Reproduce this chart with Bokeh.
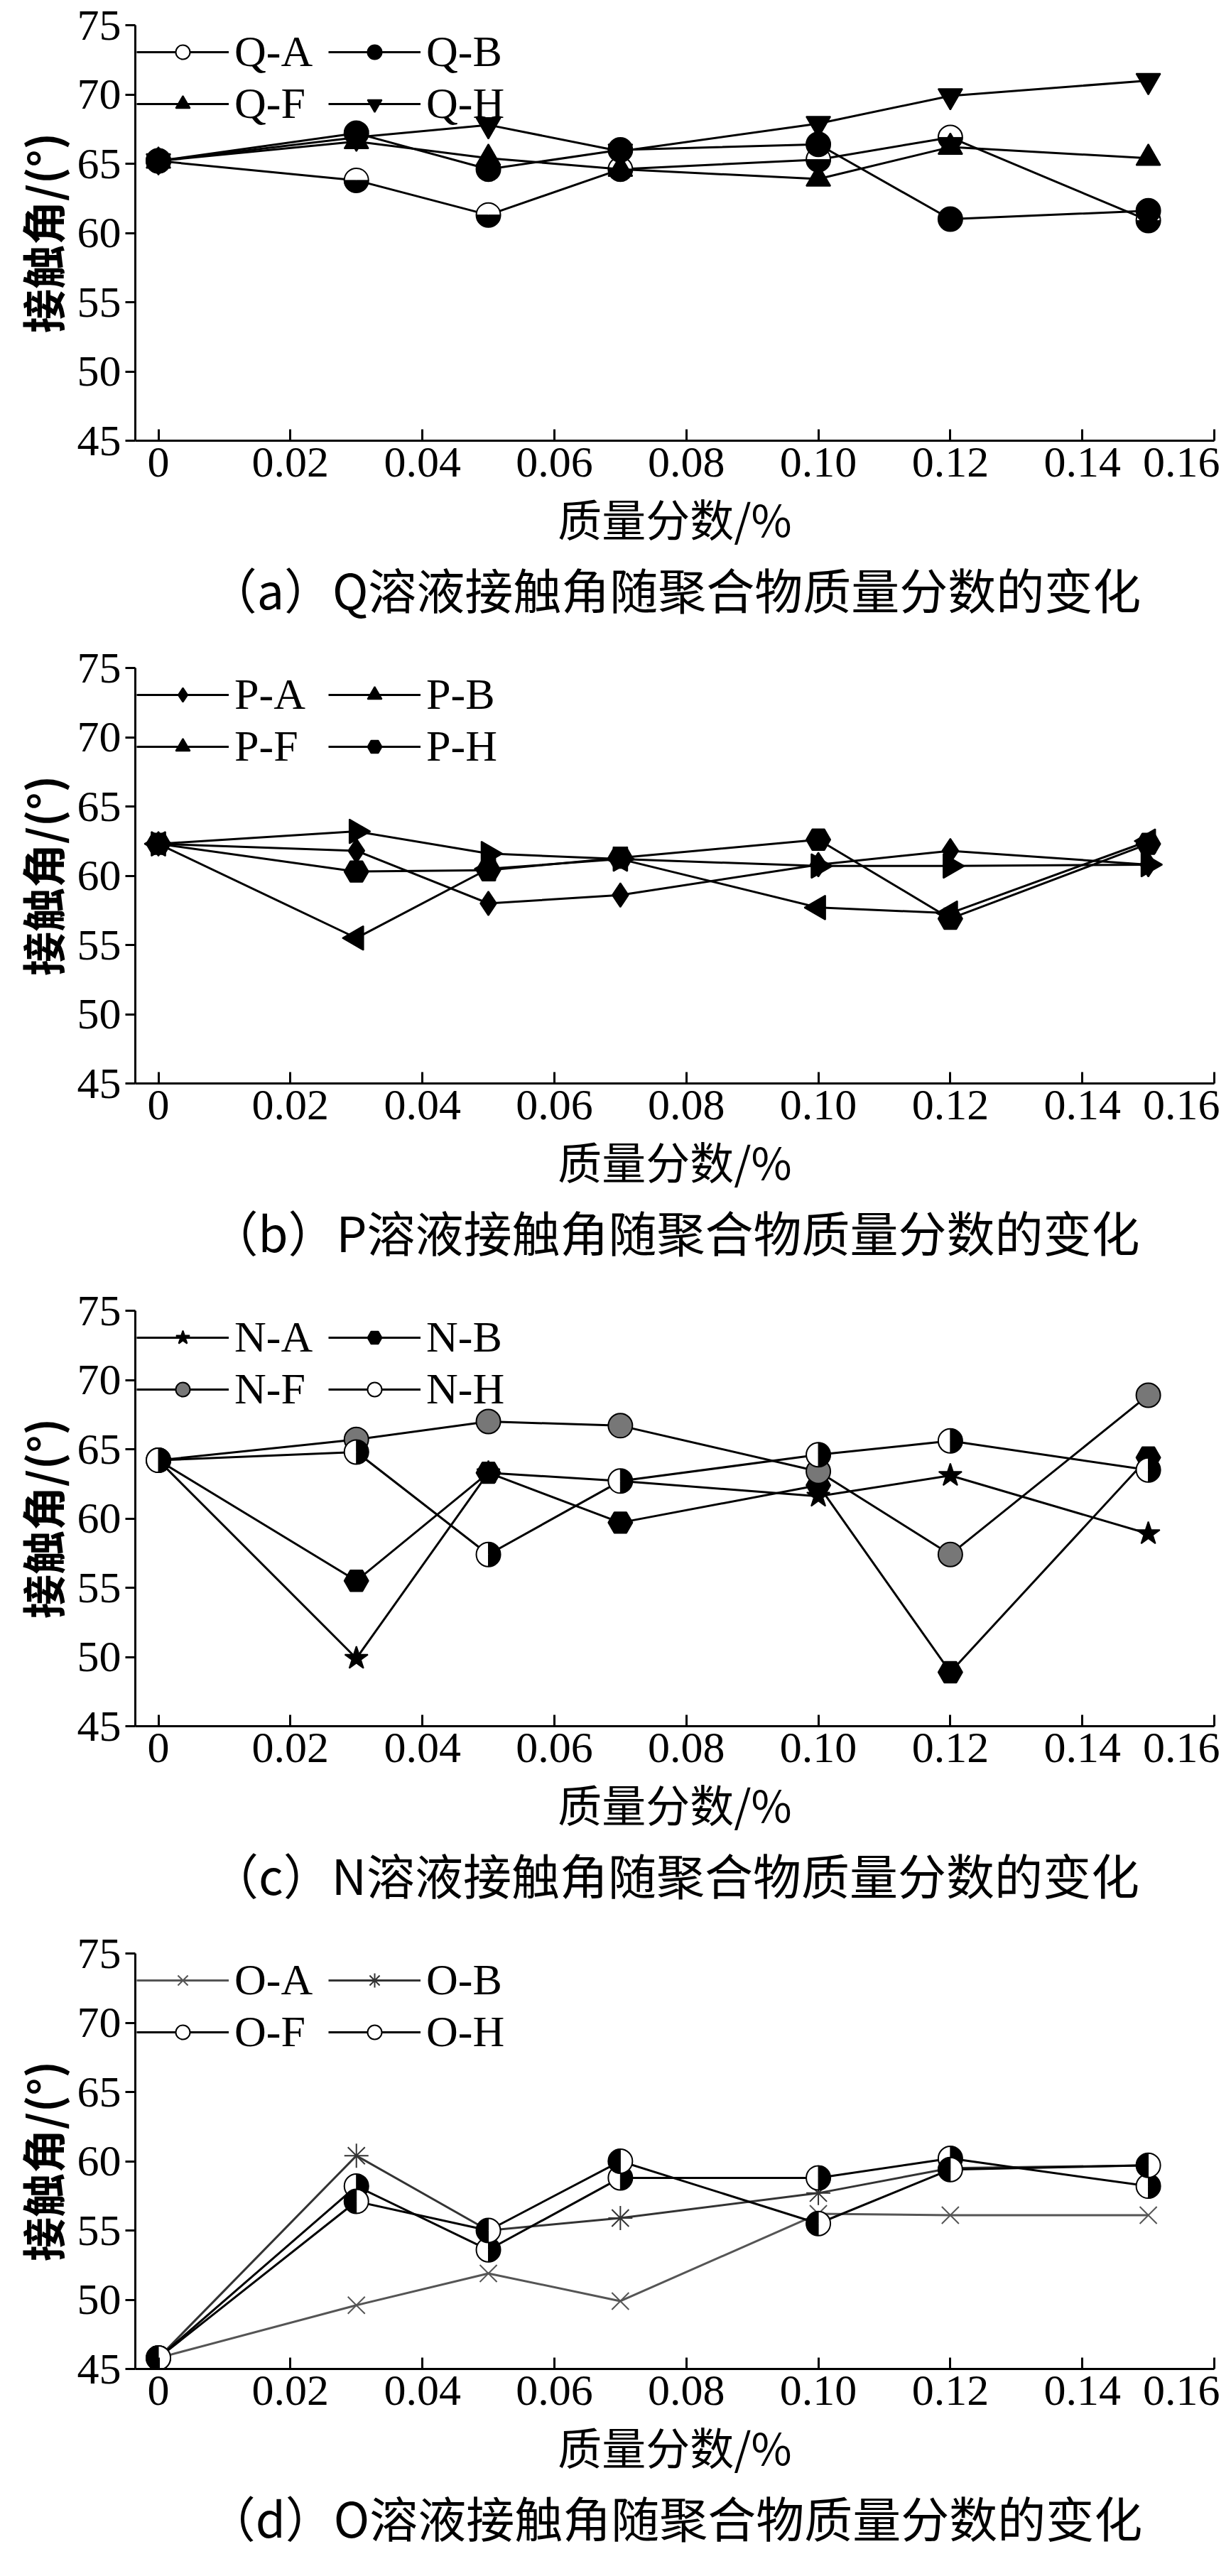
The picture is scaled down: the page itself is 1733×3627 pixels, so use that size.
from bokeh.plotting import figure
from bokeh.layouts import column
from bokeh.models import FixedTicker, Legend, LegendItem, Title, Range1d
from bokeh.embed import file_html
from bokeh.resources import INLINE
import numpy as np

x = [0, 0.03, 0.05, 0.07, 0.10, 0.12, 0.15]

QA = [65.2, 63.8, 61.3, 64.6, 65.3, 66.9, 60.9]
QB = [65.2, 67.2, 64.6, 66.0, 66.4, 61.0, 61.6]
QF = [65.2, 66.6, 65.4, 64.6, 63.9, 66.2, 65.4]
QH = [65.2, 66.9, 67.8, 65.9, 67.9, 69.9, 71.0]

PA = [62.3, 61.8, 58.0, 58.6, 60.8, 61.8, 60.8]
PB = [62.3, 55.5, 60.5, 61.2, 57.7, 57.3, 62.5]
PF = [62.3, 63.2, 61.6, 61.2, 60.7, 60.7, 60.8]
PH = [62.3, 60.3, 60.4, 61.3, 62.6, 56.9, 62.3]

NA = [64.2, 49.9, 63.3, 62.7, 61.6, 63.1, 58.9]
NB = [64.2, 55.5, 63.3, 59.7, 62.4, 48.9, 64.4]
NF = [64.2, 65.7, 67.0, 66.7, 63.4, 57.4, 68.9]
NH = [64.2, 64.8, 57.4, 62.7, 64.6, 65.6, 63.5]

OA = [45.8, 49.6, 51.9, 49.9, 56.2, 56.1, 56.1]
OB = [45.8, 60.4, 55.0, 55.9, 57.7, 59.5, 59.7]
OF = [45.8, 58.2, 53.6, 58.8, 58.8, 60.2, 58.2]
OH = [45.8, 57.1, 55.0, 60.0, 55.5, 59.4, 59.7]

xticks = [0, 0.02, 0.04, 0.06, 0.08, 0.10, 0.12, 0.14, 0.16]
xtick_labels = ["0", "0.02", "0.04", "0.06", "0.08", "0.10", "0.12", "0.14", "0.16"]
yticks = [45, 50, 55, 60, 65, 70, 75]

captions = ["（a）Q溶液接触角随聚合物质量分数的变化",
            "（b）P溶液接触角随聚合物质量分数的变化",
            "（c）N溶液接触角随聚合物质量分数的变化",
            "（d）O溶液接触角随聚合物质量分数的变化"]

SERIF = "Liberation Serif"
CJK = "Noto Sans CJK SC"
MS = 34


def make_panel(series, caption):
    p = figure(width=1717, height=905, output_backend="svg", toolbar_location=None,
               x_range=Range1d(-0.0035, 0.16), y_range=Range1d(45, 75),
               min_border_left=190, min_border_right=8, min_border_top=35,
               min_border_bottom=285, outline_line_color=None)
    p.grid.visible = False
    p.xaxis.ticker = FixedTicker(ticks=xticks)
    p.xaxis.major_label_overrides = {t: l for t, l in zip(xticks, xtick_labels)}
    p.yaxis.ticker = FixedTicker(ticks=yticks)
    for ax in (p.xaxis, p.yaxis):
        ax.major_label_text_font = SERIF
        ax.major_label_text_font_size = "62px"
        ax.major_label_text_color = "black"
        ax.axis_line_width = 3
        ax.major_tick_line_width = 3
        ax.minor_tick_line_color = None
        ax.axis_label_text_font = CJK
        ax.axis_label_text_font_style = "normal"
        ax.axis_label_text_color = "black"
    p.xaxis.major_tick_in = 16
    p.xaxis.major_tick_out = 0
    p.yaxis.major_tick_in = 0
    p.yaxis.major_tick_out = 14
    p.xaxis.axis_label = "质量分数/%"
    p.xaxis.axis_label_text_font_size = "62px"
    p.xaxis.axis_label_standoff = 10
    p.yaxis.axis_label = "接触角/(°)"
    p.yaxis.axis_label_text_font_size = "62px"
    p.yaxis.axis_label_text_font_style = "bold"
    p.yaxis.axis_label_standoff = 2
    p.xaxis.major_label_standoff = 10
    p.yaxis.major_label_standoff = 6

    items = []
    for name, ys, style, lc in series:
        rs = [p.line(x, ys, line_color=lc, line_width=3)]
        if style[0] == "scatter":
            _, marker, fill, ang = style
            rs.append(p.scatter(x, ys, marker=marker, size=MS, fill_color=fill, angle=ang,
                                line_color=lc, line_width=2))
        elif style[0] == "half":
            _, a = style
            rs.append(p.scatter(x, ys, marker="circle", size=MS, fill_color="white",
                                line_color="black", line_width=2))
            p.wedge(x, ys, radius=MS / 2, radius_units="screen",
                    start_angle=a, end_angle=a + np.pi,
                    fill_color="black", line_color="black")
        items.append(LegendItem(label=name, renderers=rs))
    items = [items[0], items[2], items[1], items[3]]
    leg = Legend(items=items, ncols=2, location="top_left",
                 label_text_font=SERIF, label_text_font_size="62px",
                 label_text_color="black", label_width=130,
                 glyph_width=130, glyph_height=50, spacing=2, padding=0,
                 margin=2, label_standoff=8, border_line_color=None,
                 background_fill_alpha=0, label_height=50)
    p.add_layout(leg)
    t = Title(text=caption, align="center", text_font=CJK, text_font_size="68px",
              text_font_style="normal", text_color="black", standoff=0)
    p.add_layout(t, "below")
    return p


pa = make_panel([("Q-A", QA, ("half", np.pi), "black"),
                 ("Q-B", QB, ("scatter", "circle", "black", 0), "black"),
                 ("Q-F", QF, ("scatter", "triangle", "black", 0), "black"),
                 ("Q-H", QH, ("scatter", "inverted_triangle", "black", 0), "black")], captions[0])
pb = make_panel([("P-A", PA, ("scatter", "diamond", "black", 0), "black"),
                 ("P-B", PB, ("scatter", "triangle", "black", np.pi / 2), "black"),
                 ("P-F", PF, ("scatter", "triangle", "black", -np.pi / 2), "black"),
                 ("P-H", PH, ("scatter", "hex", "black", 0), "black")], captions[1])
pc = make_panel([("N-A", NA, ("scatter", "star", "black", 0), "black"),
                 ("N-B", NB, ("scatter", "hex", "black", 0), "black"),
                 ("N-F", NF, ("scatter", "circle", "#777777", 0), "black"),
                 ("N-H", NH, ("half", -np.pi / 2), "black")], captions[2])
pd_ = make_panel([("O-A", OA, ("scatter", "x", "white", 0), "#555555"),
                  ("O-B", OB, ("scatter", "asterisk", "white", 0), "#333333"),
                  ("O-F", OF, ("half", -np.pi / 2), "black"),
                  ("O-H", OH, ("half", np.pi / 2), "black")], captions[3])

layout = column(pa, pb, pc, pd_, spacing=0)
open("out.html", "w").write(file_html(layout, INLINE))
